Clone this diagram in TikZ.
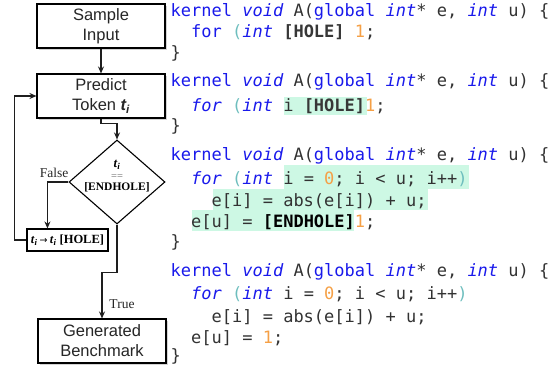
\documentclass[tikz,border=0pt]{standalone}
\usepackage{fontspec}
\setmainfont{Liberation Serif}
\newfontfamily\arialf{Liberation Sans}
\newfontfamily\codef{DejaVu Sans Mono}
\newfontfamily\dejavuf{DejaVu Sans}
\usetikzlibrary{shapes.geometric,arrows.meta,calc,shadows}
\definecolor{kwblue}{RGB}{25,25,235}
\definecolor{parcol}{RGB}{110,190,190}
\definecolor{numcol}{RGB}{245,160,70}
\definecolor{codegray}{RGB}{50,50,50}
\definecolor{holecol}{RGB}{55,55,55}
\definecolor{hlgreen}{RGB}{205,248,228}
\definecolor{linecol}{RGB}{30,30,30}
\newcommand\cckw[1]{\textcolor{kwblue}{#1}}
\newcommand\cckwi[1]{\textcolor{kwblue}{\itshape #1}}
\newcommand\ccpar[1]{\textcolor{parcol}{#1}}
\newcommand\ccnum[1]{\textcolor{numcol}{#1}}
\newcommand\cchole[1]{\textcolor{holecol}{\bfseries #1}}
\newcommand\ccend[1]{\textcolor{black}{\bfseries #1}}
\newcommand\cchead{\cckw{kernel} \cckwi{void} A(\cckw{global} \cckwi{int}* e, \cckwi{int} u) \{}
\newcommand\tisub{\textbf{\textit{t}\textsubscript{\textit{i}}}}
\tikzset{
  box/.style={draw=black, line width=1.1pt, fill=white, minimum width=128pt, minimum height=44pt,
    inner sep=0pt, align=center, font=\arialf\fontsize{16.5}{20}\selectfont, text=black!85,
    drop shadow={shadow xshift=1.6pt, shadow yshift=-1.6pt, opacity=0.35, fill=gray}},
  smallbox/.style={draw=black, line width=1.1pt, fill=white, minimum width=81pt, minimum height=22pt,
    inner sep=0pt},
  dia/.style={draw=black, line width=1.1pt, shape=diamond, minimum width=96pt, minimum height=84pt, inner sep=0pt},
  arr/.style={draw=linecol, line width=1.1pt, -{Stealth[length=7pt,width=6pt]}},
  lab/.style={font=\fontsize{13.5}{15}\selectfont, text=black!85, inner sep=0pt},
  dtext/.style={inner sep=0pt, text=black},
  code/.style={anchor=base west, inner sep=0pt, text=codegray, font=\codef\fontsize{17}{20}\selectfont},
  hl/.style={fill=hlgreen}
}
\begin{document}
\begin{tikzpicture}[x=1pt,y=-1pt]
\useasboundingbox (0,0) rectangle (559,366);
% flowchart
\node[box] (sample) at (101,26) {Sample\\Input};
\node[box] (predict) at (101,96) {Predict\\Token \textbf{\textit{t\textsubscript{i}}}};
\node[dia] (dec) at (117,182) {};
\node[dtext, font=\fontsize{13}{13}\selectfont] (dt1) at (117,165) {\tisub};
\node[dtext, text=black!60, font=\fontsize{10.5}{10.5}\selectfont] (dt2) at (117,177.5) {==};
\node[dtext, font=\fontsize{11.5}{11.5}\selectfont] (dt3) at (117,187) {\textbf{[ENDHOLE]}};
\node[smallbox] (hole) at (67.5,240) {\fontsize{12.5}{13}\selectfont\tisub\,{\dejavuf\fontsize{9.5}{9.5}\selectfont →}\,\tisub\ \textbf{[HOLE]}};
\node[box] (gen) at (102,341) {Generated\\Benchmark};
\draw[arr] (sample) -- (predict);
\draw[arr] (predict.south) -- ++(0,5) -| (dec.north);
\coordinate (holein) at ($(hole.north west)+(21,0)$);
\draw[arr] (dec.west) -| (holein);
\draw[arr] (hole.west) -- ++(-12,0) |- (predict.west);
\draw[arr] (dec.south) -- ++(0,48) -| (gen.north);
\node[lab] (false) at (54,173) {False};
\node[lab] (true) at (122,304) {True};
% highlights
\fill[hl] (284,97) rectangle (367,115);
\fill[hl] (284,165) rectangle (469,189);
\fill[hl] (213,189) rectangle (428,210);
\fill[hl] (192,210) rectangle (354,231);
% code block 1
\node[code] (c11) at (170.5,17) {\cchead};
\node[code] (c12) at (170.5,38) {~~\cckw{for} \ccpar{(}\cckwi{int} \cchole{[HOLE]} \ccnum{1};};
\node[code] (c13) at (170.5,58.5) {\}};
% code block 2
\node[code] (c21) at (170.5,87) {\cchead};
\node[code] (c22) at (170.5,112) {~~\cckwi{for} \ccpar{(}\cckwi{int} i \cchole{[HOLE]}\ccnum{1};};
\node[code] (c23) at (170.5,132) {\}};
% code block 3
\node[code] (c31) at (170.5,161) {\cchead};
\node[code] (c32) at (170.5,185) {~~\cckwi{for} \ccpar{(}\cckwi{int} i = \ccnum{0}; i < u; i++\ccpar{)}};
\node[code] (c33) at (170.5,206) {~~~~e[i] = abs(e[i]) + u;};
\node[code] (c34) at (170.5,227) {~~e[u] = \ccend{[ENDHOLE]}\ccnum{1};};
\node[code] (c35) at (170.5,247) {\}};
% code block 4
\node[code] (c41) at (170.5,276) {\cchead};
\node[code] (c42) at (170.5,299) {~~\cckwi{for} \ccpar{(}\cckwi{int} i = \ccnum{0}; i < u; i++\ccpar{)}};
\node[code] (c43) at (170.5,322) {~~~~e[i] = abs(e[i]) + u;};
\node[code] (c44) at (170.5,343) {~~e[u] = \ccnum{1};};
\node[code] (c45) at (170.5,361) {\}};
\end{tikzpicture}
\end{document}
